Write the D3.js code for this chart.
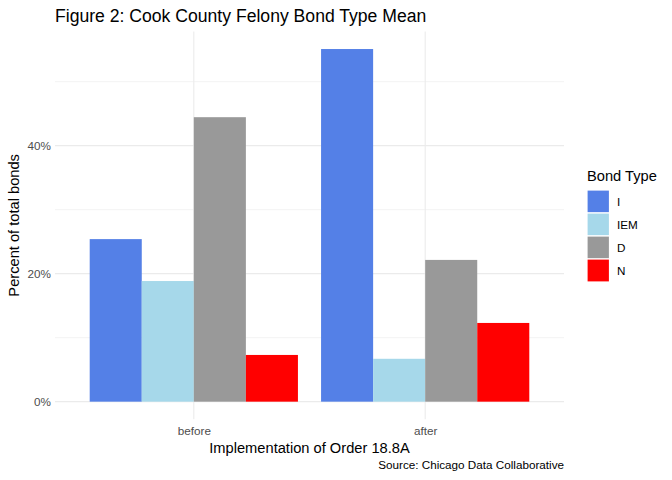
<!DOCTYPE html>
<html><head><meta charset="utf-8">
<script src="https://cdn.jsdelivr.net/npm/d3@7"></script>
<style>body{margin:0;background:#fff}svg{display:block;font-family:"Liberation Sans",Arial,sans-serif}</style>
</head><body>
<script>
const periods = ["before", "after"];
const bondTypes = ["I", "IEM", "D", "N"];
const colors = ["#5480E7", "#A6D8EA", "#999999", "#FF0000"];
const valuesBefore = [25.4, 18.85, 44.45, 7.3];
const valuesAfter = [55.1, 6.7, 22.15, 12.3];
const yTicks = [0, 20, 40];
const yMinor = [10, 30, 50];

const W = 672, H = 480;
const panel = {left: 55, right: 564, top: 31.4, bottom: 419.3};
const svg = d3.select("body").append("svg").attr("width", W).attr("height", H);

const data = [];
periods.forEach((p, i) => {
  const vals = i === 0 ? valuesBefore : valuesAfter;
  bondTypes.forEach((b, j) => data.push({period: p, type: b, value: vals[j]}));
});
const maxV = d3.max(data, d => d.value);
const y = d3.scaleLinear().domain([-0.05 * maxV, maxV * 1.05]).range([panel.bottom, panel.top]);
// ggplot-like discrete positions: expand 0.6 units each side
const unit = (panel.right - panel.left) / 2.2;
const x = d3.scalePoint().domain(periods).range([panel.left + 0.6 * unit, panel.right - 0.6 * unit]);
const xs = d3.scaleBand().domain(bondTypes).range([-0.45 * unit, 0.45 * unit]).padding(0);

// grid
const g = svg.append("g");
yMinor.forEach(v => g.append("line").attr("x1", panel.left).attr("x2", panel.right)
  .attr("y1", y(v)).attr("y2", y(v)).attr("stroke", "#EBEBEB").attr("stroke-width", 0.6));
yTicks.forEach(v => g.append("line").attr("x1", panel.left).attr("x2", panel.right)
  .attr("y1", y(v)).attr("y2", y(v)).attr("stroke", "#EBEBEB").attr("stroke-width", 1.1));
periods.forEach(p => g.append("line").attr("x1", x(p)).attr("x2", x(p))
  .attr("y1", panel.top).attr("y2", panel.bottom).attr("stroke", "#EBEBEB").attr("stroke-width", 1.1));

// bars
const color = d3.scaleOrdinal().domain(bondTypes).range(colors);
svg.append("g").selectAll("rect").data(data).join("rect")
  .attr("x", d => x(d.period) + xs(d.type))
  .attr("width", xs.bandwidth())
  .attr("y", d => y(d.value))
  .attr("height", d => y(0) - y(d.value))
  .attr("fill", d => color(d.type));

// y axis labels
const yAxis = d3.axisLeft(y).tickValues(yTicks).tickFormat(d => d + "%").tickSize(0).tickPadding(4);
const ya = svg.append("g").attr("transform", `translate(${panel.left},0)`).call(yAxis);
ya.select(".domain").remove();
ya.selectAll("text").attr("fill", "#4D4D4D").style("font-size", "11.7px").style("font-family", "Liberation Sans, Arial, sans-serif").attr("dy", "0.35em");

// x axis labels
const xAxis = d3.axisBottom(x).tickSize(0).tickPadding(0);
const xa = svg.append("g").attr("transform", `translate(0,${panel.bottom})`).call(xAxis);
xa.select(".domain").remove();
xa.selectAll("text").attr("fill", "#4D4D4D").style("font-size", "11.7px").style("font-family", "Liberation Sans, Arial, sans-serif")
  .attr("dy", null).attr("y", 435 - panel.bottom);

// titles
svg.append("text").attr("x", 55).attr("y", 21.5).style("font-size", "17.6px").attr("fill", "#000")
  .text("Figure 2: Cook County Felony Bond Type Mean");
svg.append("text").attr("x", (panel.left + panel.right) / 2).attr("y", 452.5).attr("text-anchor", "middle")
  .style("font-size", "14.67px").text("Implementation of Order 18.8A");
svg.append("text").attr("transform", `translate(18.5,${(panel.top + panel.bottom) / 2}) rotate(-90)`)
  .attr("text-anchor", "middle").style("font-size", "14.67px").text("Percent of total bonds");
svg.append("text").attr("x", panel.right).attr("y", 469).attr("text-anchor", "end")
  .style("font-size", "11.7px").text("Source: Chicago Data Collaborative");

// legend
const lg = svg.append("g").attr("transform", "translate(587,0)");
lg.append("text").attr("x", 0).attr("y", 180.5).style("font-size", "14.67px").text("Bond Type");
bondTypes.forEach((b, i) => {
  const ky = 190 + i * 23;
  lg.append("rect").attr("x", 0).attr("y", ky).attr("width", 22.5).attr("height", 23)
    .attr("fill", color(b)).attr("stroke", "#fff").attr("stroke-width", 1.2);
  lg.append("text").attr("x", 30).attr("y", ky + 11.5).attr("dy", "0.35em").style("font-size", "11.7px").text(b);
});
</script>
</body></html>
